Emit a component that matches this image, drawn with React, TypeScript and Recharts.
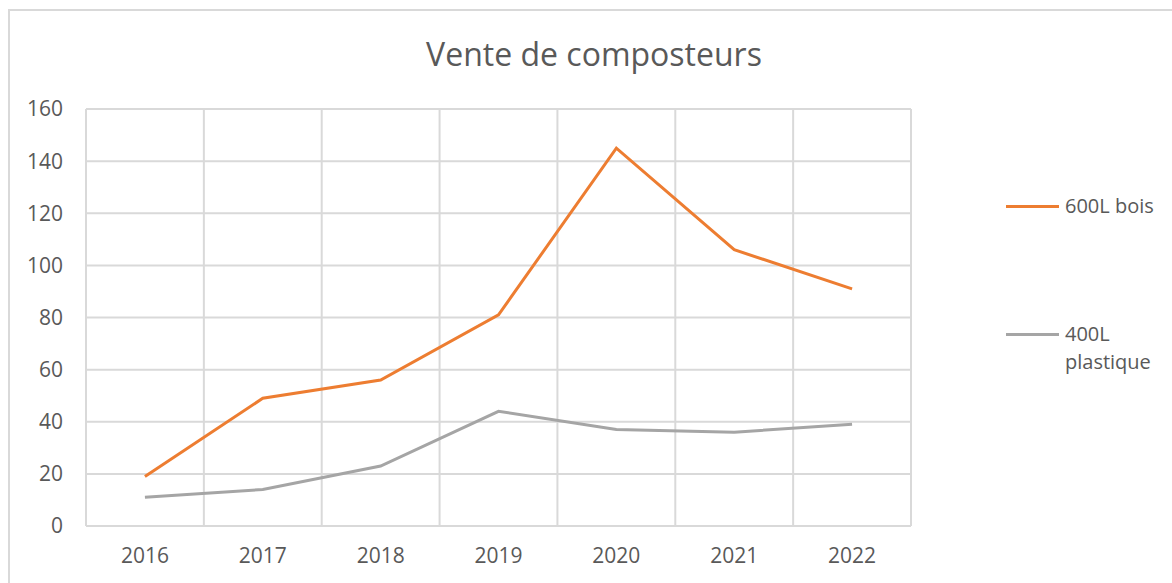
import { CartesianGrid, Line, LineChart, XAxis, YAxis } from "recharts";

const years = ["2016", "2017", "2018", "2019", "2020", "2021", "2022"];
const bois600 = [19, 49, 56, 81, 145, 106, 91];
const plastique400 = [11, 14, 23, 44, 37, 36, 39];
const yTicks = [0, 20, 40, 60, 80, 100, 120, 140, 160];

const series = [
  { key: "bois", lines: ["600L bois"], color: "#ED7D31" },
  { key: "plastique", lines: ["400L", "plastique"], color: "#A5A5A5" },
];

const data = years.map((year, i) => ({
  idx: i,
  year,
  bois: bois600[i],
  plastique: plastique400[i],
}));

// category boundaries, so the vertical grid sits between the years like in Excel
const gridTicks = [...years.map((_, i) => i - 0.5), years.length - 0.5];

const FONT = "'Open Sans', sans-serif";
const TEXT = "#595959";
const GRID = "#d9d9d9";

function LegendBox() {
  return (
    <div style={{ fontFamily: FONT, fontSize: 20, color: TEXT }}>
      {series.map((s, i) => (
        <div key={s.key} style={{ display: "flex", alignItems: "flex-start", marginTop: i === 0 ? 0 : 100 }}>
          <div style={{ width: 53, height: 3, background: s.color, marginTop: 13, marginRight: 6 }} />
          <div style={{ lineHeight: "28px" }}>
            {s.lines.map((l) => (
              <div key={l}>{l}</div>
            ))}
          </div>
        </div>
      ))}
    </div>
  );
}

export default function App() {
  return (
    <div style={{ position: "fixed", left: 0, top: 0, width: 1172, height: 583, overflow: "hidden", background: "#fff" }}>
      <div style={{ position: "absolute", left: 8, top: 9, width: 1200, height: 620, border: `2px solid ${GRID}` }} />
      <div
        style={{
          position: "absolute",
          left: 0,
          width: 1188,
          top: 32,
          textAlign: "center",
          fontFamily: FONT,
          fontSize: 32,
          color: TEXT,
        }}
      >
        Vente de composteurs
      </div>
      <div style={{ position: "absolute", left: 0, top: 0 }}>
        <LineChart width={1172} height={583} data={data} margin={{ top: 109, right: 261, bottom: 17, left: 26 }}>
          <XAxis xAxisId="grid" dataKey="idx" type="number" domain={[-0.5, years.length - 0.5]} ticks={gridTicks} hide />
          <CartesianGrid xAxisId="grid" stroke={GRID} strokeWidth={2} />
          <XAxis
            dataKey="idx"
            type="number"
            domain={[-0.5, years.length - 0.5]}
            ticks={years.map((_, i) => i)}
            tickFormatter={(v: number) => years[v]}
            height={40}
            tickSize={0}
            tickMargin={22}
            axisLine={{ stroke: GRID, strokeWidth: 2 }}
            tick={{ fill: TEXT, fontSize: 21, fontFamily: FONT }}
          />
          <YAxis
            domain={[0, 160]}
            ticks={yTicks}
            width={60}
            tickSize={0}
            tickMargin={23}
            axisLine={false}
            tick={{ fill: TEXT, fontSize: 21, fontFamily: FONT }}
          />
          {series.map((s) => (
            <Line
              key={s.key}
              dataKey={s.key}
              name={s.lines.join(" ")}
              stroke={s.color}
              strokeWidth={3}
              dot={false}
              isAnimationActive={false}
            />
          ))}
        </LineChart>
      </div>
      <div style={{ position: "absolute", left: 1006, top: 192, width: 170 }}>
        <LegendBox />
      </div>
    </div>
  );
}
